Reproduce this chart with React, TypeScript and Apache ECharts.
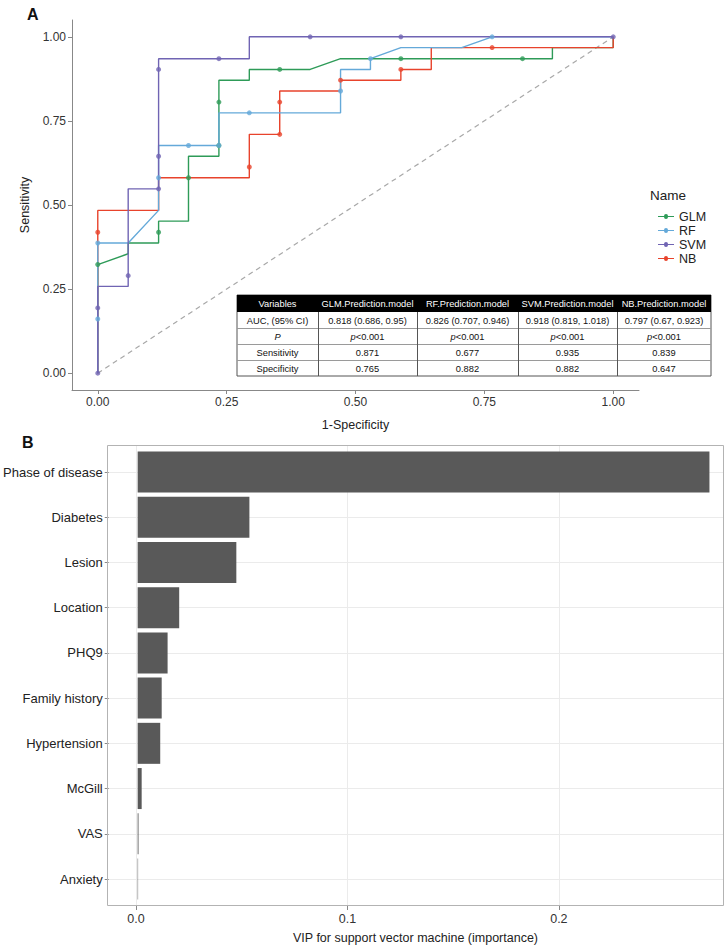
import React, { useEffect, useRef } from "react";
import * as echarts from "echarts";

// ---------- Panel A: ROC curves ----------
const modelNames = ["GLM", "RF", "SVM", "NB"];
const modelColors = ["#2e9b58", "#64a9d9", "#7064b3", "#e8432c"];

const glmPath = [[0,0],[0,0.323],[0.059,0.355],[0.059,0.387],[0.118,0.387],[0.118,0.452],[0.176,0.452],[0.176,0.645],[0.235,0.645],[0.235,0.871],[0.294,0.871],[0.294,0.903],[0.412,0.903],[0.471,0.935],[0.882,0.935],[0.882,0.968],[1,0.968],[1,1]];
const glmPoints = [[0,0.323],[0.118,0.419],[0.176,0.581],[0.235,0.677],[0.235,0.806],[0.353,0.903],[0.588,0.935],[0.824,0.935]];

const rfPath = [[0,0],[0,0.387],[0.059,0.387],[0.118,0.484],[0.118,0.677],[0.235,0.677],[0.235,0.774],[0.471,0.774],[0.471,0.903],[0.529,0.903],[0.529,0.935],[0.588,0.968],[0.706,0.968],[0.765,1],[1,1]];
const rfPoints = [[0,0.161],[0,0.387],[0.118,0.581],[0.176,0.677],[0.235,0.677],[0.294,0.774],[0.471,0.839],[0.529,0.935],[0.765,1]];

const svmPath = [[0,0],[0,0.258],[0.059,0.258],[0.059,0.548],[0.118,0.548],[0.118,0.935],[0.294,0.935],[0.294,1],[1,1]];
const svmPoints = [[0,0],[0,0.194],[0.059,0.29],[0.118,0.548],[0.118,0.645],[0.118,0.903],[0.235,0.935],[0.412,1],[0.588,1],[1,1]];

const nbPath = [[0,0],[0,0.484],[0.118,0.484],[0.118,0.581],[0.294,0.581],[0.294,0.71],[0.353,0.71],[0.353,0.839],[0.471,0.839],[0.471,0.871],[0.588,0.871],[0.588,0.903],[0.647,0.903],[0.647,0.968],[1,0.968],[1,1]];
const nbPoints = [[0,0.419],[0.294,0.613],[0.353,0.71],[0.353,0.806],[0.471,0.871],[0.588,0.903],[0.765,0.968]];

const diagonal = [[0,0],[1,1]];
const rocTicks = [0, 0.25, 0.5, 0.75, 1];

// table
const tableHeader = ["Variables", "GLM.Prediction.model", "RF.Prediction.model", "SVM.Prediction.model", "NB.Prediction.model"];
const rowLabels = ["AUC, (95% CI)", "P", "Sensitivity", "Specificity"];
const aucText = ["0.818 (0.686, 0.95)", "0.826 (0.707, 0.946)", "0.918 (0.819, 1.018)", "0.797 (0.67, 0.923)"];
const pText = ["<0.001", "<0.001", "<0.001", "<0.001"];
const sensText = ["0.871", "0.677", "0.935", "0.839"];
const specText = ["0.765", "0.882", "0.882", "0.647"];

// ---------- Panel B: variable importance ----------
const vipCategories = ["Phase of disease", "Diabetes", "Lesion", "Location", "PHQ9", "Family history", "Hypertension", "McGill", "VAS", "Anxiety"];
const vipValues = [0.2712, 0.053, 0.0468, 0.0197, 0.0142, 0.0114, 0.0107, 0.0019, 0.0004, 0.0002];
const vipTicks = [0, 0.1, 0.2];

const FONT = "Liberation Sans, Arial, Helvetica, sans-serif";
const TFS = 9.3;

function buildTable() {
  const xs = [237, 318, 417, 518, 617, 711];
  const ys = [295, 312, 328, 344, 360, 376];
  const els: any[] = [];
  els.push({ type: "rect", z: 100, shape: { x: xs[0], y: ys[0], width: xs[5] - xs[0], height: ys[5] - ys[0] }, style: { fill: "#ffffff", stroke: "#555", lineWidth: 1 } });
  els.push({ type: "rect", z: 101, shape: { x: xs[0], y: ys[0], width: xs[5] - xs[0], height: ys[1] - ys[0] }, style: { fill: "#000000" } });
  for (let r = 2; r < 5; r++) {
    els.push({ type: "line", z: 101, shape: { x1: xs[0], y1: ys[r] + 0.5, x2: xs[5], y2: ys[r] + 0.5 }, style: { stroke: "#9a9a9a", lineWidth: 1 } });
  }
  for (let c = 1; c < 5; c++) {
    els.push({ type: "line", z: 101, shape: { x1: xs[c] + 0.5, y1: ys[1], x2: xs[c] + 0.5, y2: ys[5] }, style: { stroke: "#555", lineWidth: 1 } });
  }
  const cx = (c: number) => (xs[c] + xs[c + 1]) / 2;
  const cy = (r: number) => (ys[r] + ys[r + 1]) / 2 + 0.5;
  tableHeader.forEach((t, c) => {
    els.push({ type: "text", z: 102, style: { text: t, x: cx(c), y: cy(0), align: "center", verticalAlign: "middle", fontSize: TFS, fontFamily: FONT, fill: "#ffffff" } });
  });
  const rows = [aucText, pText, sensText, specText];
  rowLabels.forEach((lab, r) => {
    const isP = lab === "P";
    els.push({ type: "text", z: 102, style: { text: lab, x: cx(0), y: cy(r + 1), align: "center", verticalAlign: "middle", fontSize: TFS, fontFamily: FONT, fill: "#111", fontStyle: isP ? "italic" : "normal" } });
    rows[r].forEach((v, c) => {
      els.push({
        type: "text", z: 102,
        style: isP
          ? { text: "{i|p}" + v, x: cx(c + 1), y: cy(r + 1), align: "center", verticalAlign: "middle", fontSize: TFS, fontFamily: FONT, fill: "#111", rich: { i: { fontStyle: "italic", fontSize: TFS, fontFamily: FONT, fill: "#111" } } }
          : { text: v, x: cx(c + 1), y: cy(r + 1), align: "center", verticalAlign: "middle", fontSize: TFS, fontFamily: FONT, fill: "#111" },
      });
    });
  });
  return els;
}

export default function App() {
  const ref = useRef<HTMLDivElement>(null);
  useEffect(() => {
    if (!ref.current) return;
    const chart = echarts.init(ref.current, null, { renderer: "svg" });
    const paths: Record<string, number[][]> = { GLM: glmPath, RF: rfPath, SVM: svmPath, NB: nbPath };
    const points: Record<string, number[][]> = { GLM: glmPoints, RF: rfPoints, SVM: svmPoints, NB: nbPoints };
    const drawOrder = ["GLM", "NB", "RF", "SVM"];
    const rocSeries: any[] = [
      {
        name: "diag", type: "line", xAxisIndex: 0, yAxisIndex: 0, data: diagonal, symbol: "none", silent: true,
        lineStyle: { color: "#a8a8a8", width: 1.2, type: [5, 4] }, z: 1,
      },
    ];
    drawOrder.forEach((n) => {
      const color = modelColors[modelNames.indexOf(n)];
      rocSeries.push({
        name: n, type: "line", xAxisIndex: 0, yAxisIndex: 0, symbol: "circle", symbolSize: 5,
        data: paths[n].map((p) => ({ value: p, symbol: "none" })),
        lineStyle: { color, width: 1.4 }, itemStyle: { color }, z: 2,
      });
    });
    drawOrder.forEach((n) => {
      const color = modelColors[modelNames.indexOf(n)];
      rocSeries.push({
        name: n, type: "scatter", xAxisIndex: 0, yAxisIndex: 0, symbol: "circle", symbolSize: 5,
        data: points[n], itemStyle: { color }, z: 3,
      });
    });

    const option: any = {
      animation: false,
      textStyle: { fontFamily: FONT },
      grid: [
        { left: 72, top: 20, width: 567, height: 370 },
        { left: 107, top: 445, width: 617, height: 461 },
        { left: 107, top: 472, width: 617, height: 407 },
      ],
      legend: {
        data: modelNames.map((n) => ({ name: n, icon: "path://M0,4L6,4A2,2 0 1 1 10,4L16,4L16,5L10,5A2,2 0 1 1 6,5L0,5Z" })),
        orient: "vertical", left: 653, top: 205, itemGap: 1, itemWidth: 16, itemHeight: 6,
        textStyle: { fontSize: 12.5, color: "#222", fontFamily: FONT },
      },
      xAxis: [
        {
          gridIndex: 0, type: "value", min: -0.05, max: 1.05,
          axisLine: { show: true, onZero: false, lineStyle: { color: "#888", width: 1 } },
          axisTick: { show: true, customValues: rocTicks, length: 4, lineStyle: { color: "#888" } },
          axisLabel: { customValues: rocTicks, formatter: (v: number) => v.toFixed(2), fontSize: 12, color: "#333", margin: 6, fontFamily: FONT },
          splitLine: { show: false },
          name: "1-Specificity", nameLocation: "middle", nameGap: 28,
          nameTextStyle: { fontSize: 12.5, color: "#222", fontFamily: FONT },
        },
        {
          gridIndex: 1, type: "value", min: -0.01372, max: 0.2781,
          axisLine: { show: false, onZero: false },
          axisTick: { show: true, customValues: vipTicks, length: 4, lineStyle: { color: "#888" } },
          axisLabel: { customValues: vipTicks, formatter: (v: number) => v.toFixed(1), fontSize: 12.5, color: "#333", margin: 6, fontFamily: FONT },
          splitLine: { show: true, lineStyle: { color: "#ebebeb", width: 1 } },
          name: "VIP for support vector machine (importance)", nameLocation: "middle", nameGap: 25,
          nameTextStyle: { fontSize: 12.5, color: "#222", fontFamily: FONT },
        },
        { gridIndex: 2, type: "value", min: -0.01372, max: 0.2781, show: false, axisLine: { onZero: false }, splitLine: { show: false } },
      ],
      yAxis: [
        {
          gridIndex: 0, type: "value", min: -0.05, max: 1.05,
          axisLine: { show: true, onZero: false, lineStyle: { color: "#888", width: 1 } },
          axisTick: { show: true, customValues: rocTicks, length: 4, lineStyle: { color: "#888" } },
          axisLabel: { customValues: rocTicks, formatter: (v: number) => v.toFixed(2), fontSize: 12, color: "#333", margin: 6, fontFamily: FONT },
          splitLine: { show: false },
          name: "Sensitivity", nameLocation: "middle", nameGap: 33, nameRotate: 90,
          nameTextStyle: { fontSize: 12.5, color: "#222", fontFamily: FONT },
        },
        { gridIndex: 1, type: "value", min: 0, max: 1, show: false, axisLine: { onZero: false }, splitLine: { show: false } },
        {
          gridIndex: 2, type: "category", data: vipCategories, inverse: true, boundaryGap: false,
          axisLine: { show: false, onZero: false },
          axisTick: { show: true, length: 4, lineStyle: { color: "#888" } },
          axisLabel: { fontSize: 13, color: "#222", margin: 6, interval: 0, fontFamily: FONT },
          splitLine: { show: true, lineStyle: { color: "#ebebeb", width: 1 } },
        },
      ],
      series: [
        ...rocSeries,
        {
          name: "VIP", type: "bar", xAxisIndex: 2, yAxisIndex: 2, data: vipValues, barWidth: 41, clip: false,
          itemStyle: { color: "#595959" }, silent: true,
        },
      ],
      graphic: [
        { type: "text", left: 27, top: 6, style: { text: "A", fontSize: 16, fontWeight: "bold", fontFamily: FONT, fill: "#111" } },
        { type: "text", left: 22, top: 434, style: { text: "B", fontSize: 16, fontWeight: "bold", fontFamily: FONT, fill: "#111" } },
        { type: "text", left: 650, top: 188, style: { text: "Name", fontSize: 13.5, fontFamily: FONT, fill: "#222" } },
        { type: "rect", z: 50, shape: { x: 107.5, y: 445.5, width: 616, height: 460 }, style: { fill: "none", stroke: "#b3b3b3", lineWidth: 1 } },
        ...buildTable(),
      ],
    };
    chart.setOption(option);
    return () => chart.dispose();
  }, []);
  return <div ref={ref} style={{ position: "fixed", left: 0, top: 0, width: 727, height: 947, background: "#fff" }} />;
}
